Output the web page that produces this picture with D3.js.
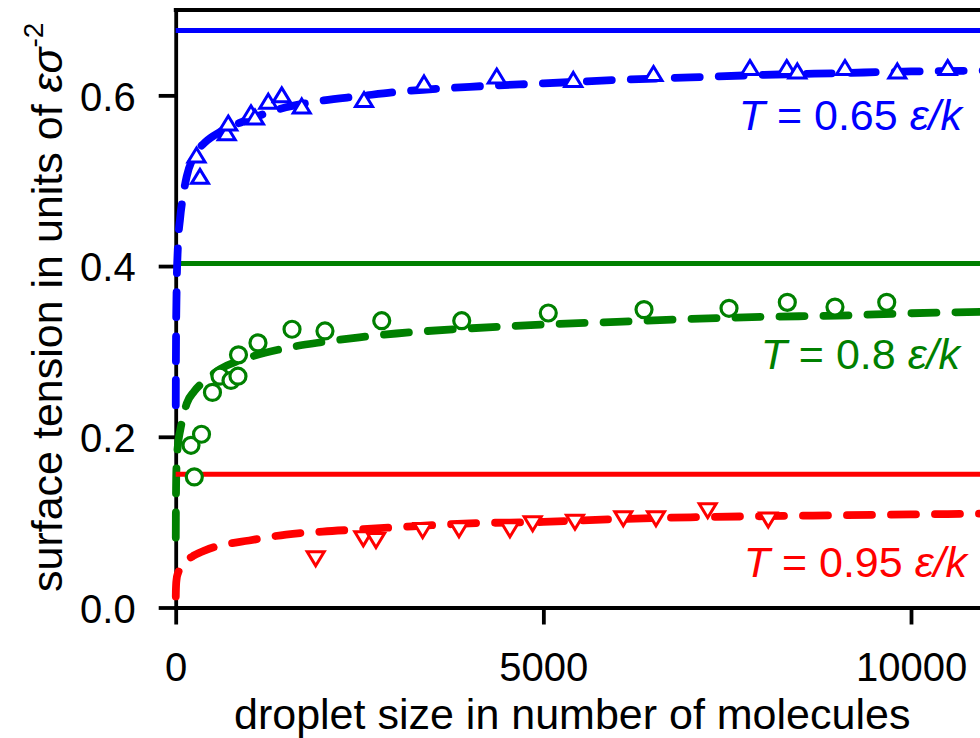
<!DOCTYPE html>
<html>
<head>
<meta charset="utf-8">
<script src="https://cdn.jsdelivr.net/npm/d3@7"></script>
<style>
  html, body { margin: 0; padding: 0; background: #fff; }
  svg { display: block; font-family: "Liberation Sans", Arial, sans-serif; }
  text { white-space: pre; }
</style>
</head>
<body>
<svg id="chart" width="980" height="738"></svg>
<script>
// ---- simulation results: droplet size N (molecules) vs surface tension (eps/sigma^2)
const size065 = [283, 330, 694, 715, 1024, 1078, 1259, 1442, 1714, 2561, 3377, 4366, 5407, 6498, 7810, 8310, 8454, 9102, 9814, 10499];
const gamma065 = [0.5295, 0.5045, 0.5555, 0.567, 0.579, 0.574, 0.5925, 0.600, 0.587, 0.5945, 0.614, 0.622, 0.618, 0.625, 0.632, 0.632, 0.628, 0.632, 0.628, 0.632];

const size080 = [253, 208, 351, 500, 602, 752, 847, 854, 1119, 1582, 2030, 2802, 3890, 5067, 6369, 7525, 8318, 8966, 9670];
const gamma080 = [0.153, 0.190, 0.203, 0.252, 0.271, 0.266, 0.271, 0.296, 0.310, 0.326, 0.324, 0.336, 0.336, 0.345, 0.349, 0.3505, 0.3575, 0.352, 0.3575];

const size095 = [1904, 2551, 2724, 3359, 3853, 4546, 4855, 5430, 6087, 6532, 7235, 8059];
const gamma095 = [0.0576, 0.081, 0.079, 0.0908, 0.0916, 0.0916, 0.0986, 0.1005, 0.1045, 0.1045, 0.114, 0.103];

// ---- fitted curves, sampled on a common size grid
const fitSize = [1, 2, 5, 12, 30, 60, 100, 150, 250, 400, 600, 1000, 1500, 2000, 2500, 3000, 4000, 5000, 6000, 7000, 8000, 9000, 10000, 11000];
const fit065 = [0.237, 0.270, 0.320, 0.370, 0.423, 0.456, 0.482, 0.505, 0.529, 0.545, 0.557, 0.572, 0.586, 0.594, 0.599, 0.604, 0.610, 0.614, 0.618, 0.621, 0.624, 0.626, 0.628, 0.629];
const fit080 = [0.082, 0.105, 0.140, 0.168, 0.190, 0.207, 0.223, 0.239, 0.253, 0.266, 0.279, 0.293, 0.304, 0.311, 0.3165, 0.321, 0.327, 0.3315, 0.3347, 0.338, 0.3405, 0.342, 0.3447, 0.3465];
const fit095 = [0.013, 0.018, 0.026, 0.033, 0.040, 0.045, 0.050, 0.055, 0.061, 0.067, 0.0725, 0.0785, 0.0855, 0.089, 0.0915, 0.094, 0.0985, 0.1003, 0.1035, 0.1057, 0.107, 0.108, 0.109, 0.110];

// ---- planar (infinite radius) surface tension
const planar065 = 0.676;
const planar080 = 0.403;
const planar095 = 0.156;

// ---- axis ticks
const xTicks = [0, 5000, 10000];
const yTicks = [0.0, 0.2, 0.4, 0.6];

const svg = d3.select("#chart");

const x = d3.scaleLinear().domain([0, 11000]).range([175.7, 175.7 + 11000 * 0.07353]);
const y = d3.scaleLinear().domain([0, 0.7]).range([607.5, 10]);

const AXIS_W = 3.8;

// axes
const gx = svg.append("g")
  .attr("transform", `translate(0,${y(0)})`)
  .call(d3.axisBottom(x).tickValues(xTicks).tickFormat(d3.format("d"))
    .tickSizeInner(17).tickSizeOuter(0).tickPadding(28));
const gy = svg.append("g")
  .attr("transform", `translate(${x(0)},0)`)
  .call(d3.axisLeft(y).tickValues(yTicks).tickFormat(d3.format(".1f"))
    .tickSizeInner(17).tickSizeOuter(0).tickPadding(23));

[gx, gy].forEach(g => {
  g.attr("font-size", null).attr("font-family", null);
  g.select(".domain").attr("stroke", "#000").attr("stroke-width", AXIS_W).attr("stroke-linecap", "square");
  g.selectAll(".tick line").attr("stroke", "#000").attr("stroke-width", AXIS_W);
  g.selectAll(".tick text").attr("fill", "#000").style("font-size", "40px");
});
gy.selectAll(".tick text").attr("dy", "0.37em");

// top frame line
svg.append("line")
  .attr("x1", x(0)).attr("x2", x(11000))
  .attr("y1", y(0.7)).attr("y2", y(0.7))
  .attr("stroke", "#000").attr("stroke-width", AXIS_W).attr("stroke-linecap", "square");

const line = d3.line()
  .x(d => x(d[0]))
  .y(d => y(d[1]))
  .curve(d3.curveMonotoneX);

const series = [
  { color: "#008000", planar: planar080, fit: fit080 },
  { color: "#ff0000", planar: planar095, fit: fit095 },
  { color: "#0000ff", planar: planar065, fit: fit065 }
];

series.forEach(s => {
  svg.append("line")
    .attr("x1", x(0)).attr("x2", x(11000))
    .attr("y1", y(s.planar)).attr("y2", y(s.planar))
    .attr("stroke", s.color).attr("stroke-width", 5);
  svg.append("path")
    .datum(fitSize.map((n, i) => [n, s.fit[i]]))
    .attr("d", line)
    .attr("fill", "none")
    .attr("stroke", s.color)
    .attr("stroke-width", 7.8)
    .attr("stroke-linecap", "round")
    .attr("stroke-dasharray", "25 19");
});

// markers
const triUp = "M0,-7.5L8.5,6.5L-8.5,6.5Z";
const triDown = "M0,7.5L8.5,-6.5L-8.5,-6.5Z";

svg.append("g").selectAll("path")
  .data(size065.map((n, i) => [n, gamma065[i]]))
  .join("path")
  .attr("d", triUp)
  .attr("transform", d => `translate(${x(d[0])},${y(d[1])})`)
  .attr("fill", "#fff").attr("stroke", "#0000ff").attr("stroke-width", 3);

svg.append("g").selectAll("circle")
  .data(size080.map((n, i) => [n, gamma080[i]]))
  .join("circle")
  .attr("cx", d => x(d[0])).attr("cy", d => y(d[1])).attr("r", 8)
  .attr("fill", "#fff").attr("stroke", "#008000").attr("stroke-width", 3.2);

svg.append("g").selectAll("path")
  .data(size095.map((n, i) => [n, gamma095[i]]))
  .join("path")
  .attr("d", triDown)
  .attr("transform", d => `translate(${x(d[0])},${y(d[1])})`)
  .attr("fill", "#fff").attr("stroke", "#ff0000").attr("stroke-width", 3);

// temperature labels
const labels = [
  { t: "0.65", color: "#0000ff", x: 962, y: 130 },
  { t: "0.8",  color: "#008000", x: 960, y: 369 },
  { t: "0.95", color: "#ff0000", x: 967, y: 577 }
];
labels.forEach(l => {
  const txt = svg.append("text")
    .attr("x", l.x).attr("y", l.y)
    .attr("text-anchor", "end")
    .attr("fill", l.color)
    .style("font-size", "43px");
  txt.append("tspan").attr("font-style", "italic").text("T");
  txt.append("tspan").text(` = ${l.t} `);
  txt.append("tspan").attr("font-style", "italic").text("\u03B5/k");
});

// axis titles
svg.append("text")
  .attr("x", 234).attr("y", 729)
  .attr("fill", "#000")
  .style("font-size", "43px")
  .text("droplet size in number of molecules");

const yt = svg.append("text")
  .attr("transform", "translate(62,592) rotate(-90)")
  .attr("fill", "#000")
  .style("font-size", "43px");
yt.append("tspan").text("surface tension in units of ");
yt.append("tspan").attr("font-style", "italic").text("\u03B5\u03C3");
yt.append("tspan").attr("dy", -19).style("font-size", "28px").text("-2");
</script>
</body>
</html>
